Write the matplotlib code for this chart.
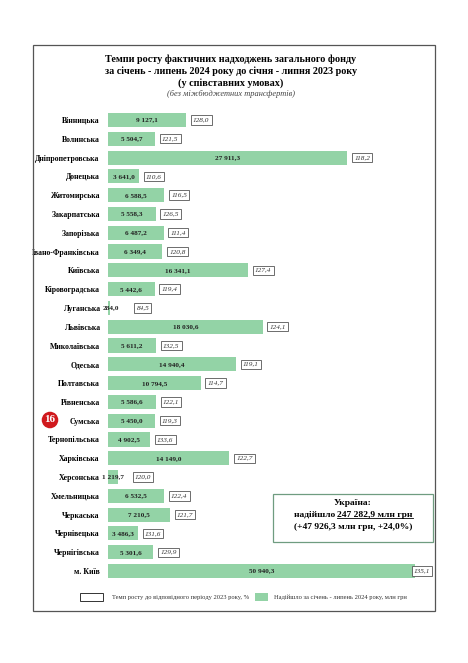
import matplotlib
matplotlib.use("Agg")
import matplotlib.pyplot as plt
from matplotlib.patches import Rectangle
from matplotlib.lines import Line2D

plt.rcParams['font.family'] = ['Liberation Serif', 'DejaVu Serif']

##### data
regions = ['Вінницька', 'Волинська', 'Дніпропетровська', 'Донецька', 'Житомирська',
           'Закарпатська', 'Запорізька', 'Івано-Франківська', 'Київська', 'Кіровоградська',
           'Луганська', 'Львівська', 'Миколаївська', 'Одеська', 'Полтавська',
           'Рівненська', 'Сумська', 'Тернопільська', 'Харківська', 'Херсонська',
           'Хмельницька', 'Черкаська', 'Чернівецька', 'Чернігівська', 'м. Київ']
revenue = [9127.1, 5504.7, 27911.3, 3641.0, 6588.5,
           5558.3, 6487.2, 6349.4, 16341.1, 5442.6,
           284.0, 18030.6, 5611.2, 14940.4, 10794.5,
           5586.6, 5450.0, 4902.5, 14149.0, 1219.7,
           6532.5, 7210.5, 3486.3, 5301.6, 50940.3]
growth = [128.0, 121.5, 118.2, 110.6, 116.5,
          126.5, 111.4, 120.8, 127.4, 119.4,
          84.5, 124.1, 132.5, 119.1, 114.7,
          122.1, 119.3, 133.6, 122.7, 120.0,
          122.4, 121.7, 131.6, 129.9, 135.1]

title_lines = ['Темпи росту фактичних надходжень загального фонду',
               'за січень - липень 2024 року до січня - липня 2023 року',
               '(у співставних умовах)']
subtitle = '(без міжбюджетних трансфертів)'
total_lines = ['Україна:', 'надійшло ', '247 282,9 млн грн', '(+47 926,3 млн грн, +24,0%)']
legend_labels = ['Темп росту до відповідного періоду 2023 року, %',
                 'Надійшло за січень - липень 2024 року, млн грн']
rank = '16'

green = '#93d3a6'
W, H = 468, 663
xmax = 35800  # the Kyiv city bar is cut at the right edge


def fx(px):
    return px / W


def fy(py):
    return 1 - py / H


def fmt(v):
    s = f"{v:,.1f}".replace(',', ' ').replace('.', ',')
    return s


fig = plt.figure(figsize=(W / 100, H / 100), dpi=100)
ax = fig.add_axes([fx(108), fy(580.4), fx(415) - fx(108), (580.4 - 110.6) / H])

ypos = list(range(len(regions)))
ax.barh(ypos, revenue, height=0.75, color=green, edgecolor='none')
ax.set_xlim(0, xmax)
ax.set_ylim(len(regions) - 0.5, -0.5)
ax.set_yticks(ypos)
ax.set_yticklabels(regions, fontsize=5.6, fontweight='bold')
ax.tick_params(axis='y', length=0, pad=6)
ax.set_xticks([])
for s in ax.spines.values():
    s.set_visible(False)

for i, (v, g) in enumerate(zip(revenue, growth)):
    vis = min(v, xmax)
    if v > 1000:
        lx = vis / 2
        ax.text(lx, i, fmt(v), ha='center', va='center', fontsize=5.2,
                fontweight='bold', color='#222')
    else:
        lx = 800
        ax.text(-600, i, fmt(v), ha='left', va='center', fontsize=5.2,
                fontweight='bold', color='#222')
    box = dict(boxstyle='square,pad=0.3', fc='white', ec='#555', lw=0.6)
    if v > xmax:
        ax.annotate(f"{g:.1f}".replace('.', ','), xy=(vis, i), xytext=(11, 0),
                    textcoords='offset points', ha='right', va='center',
                    fontsize=5.2, style='italic', color='#333', bbox=box,
                    annotation_clip=False)
    else:
        bx = max(vis, lx + 1700)
        ax.annotate(f"{g:.1f}".replace('.', ','), xy=(bx, i), xytext=(5, 0),
                    textcoords='offset points', ha='left', va='center',
                    fontsize=5.2, style='italic', color='#333', bbox=box,
                    annotation_clip=False)

# outer frame
fig.patches.append(Rectangle((fx(33), fy(611)), fx(435) - fx(33), (611 - 45) / H,
                             transform=fig.transFigure, fill=False, ec='#555', lw=0.9))

# title
for k, line in enumerate(title_lines):
    fig.text(fx(231), fy(59 + 12 * k), line, ha='center', va='center',
             fontsize=7.3, fontweight='bold')
fig.text(fx(231), fy(94), subtitle, ha='center', va='center', fontsize=6,
         style='italic', color='#444')

# rank badge
fig.text(fx(50), fy(420), rank, ha='center', va='center', fontsize=8,
         fontweight='bold', color='white',
         bbox=dict(boxstyle='circle,pad=0.25', fc='#d0191d', ec='none'))

# Ukraine total box
fig.patches.append(Rectangle((fx(273), fy(542)), fx(433) - fx(273), (542 - 494) / H,
                             transform=fig.transFigure, fill=False, ec='#6f9c80', lw=0.9))
fig.text(fx(353), fy(503), total_lines[0], ha='center', va='center', fontsize=6.8,
         fontweight='bold')
t1 = fig.text(fx(353), fy(515), total_lines[1], ha='right', va='center', fontsize=6.8,
              fontweight='bold')
t2 = fig.text(fx(353), fy(515), total_lines[2], ha='left', va='center', fontsize=6.8,
              fontweight='bold')
fig.text(fx(353), fy(527), total_lines[3], ha='center', va='center', fontsize=6.8,
         fontweight='bold')
fig.canvas.draw()
r = fig.canvas.get_renderer()
w1 = t1.get_window_extent(r).width
w2 = t2.get_window_extent(r).width
shift = (w1 - w2) / 2 / fig.bbox.width
t1.set_x(fx(353) + shift)
t2.set_x(fx(353) + shift)
fig.canvas.draw()
bb = t2.get_window_extent(r).transformed(fig.transFigure.inverted())
fig.lines.append(Line2D([bb.x0, bb.x1], [bb.y0 + 0.001, bb.y0 + 0.001],
                        transform=fig.transFigure, color='black', lw=0.6))

# legend
fig.patches.append(Rectangle((fx(80), fy(601)), fx(103) - fx(80), 8 / H,
                             transform=fig.transFigure, fc='white', ec='#333', lw=0.7))
fig.text(fx(112), fy(597), legend_labels[0], ha='left', va='center', fontsize=4.7,
         color='#333')
fig.patches.append(Rectangle((fx(255), fy(601)), fx(268) - fx(255), 8 / H,
                             transform=fig.transFigure, fc=green, ec='none'))
fig.text(fx(274), fy(597), legend_labels[1], ha='left', va='center', fontsize=4.7,
         color='#333')

fig.savefig("out.png", dpi=100)
